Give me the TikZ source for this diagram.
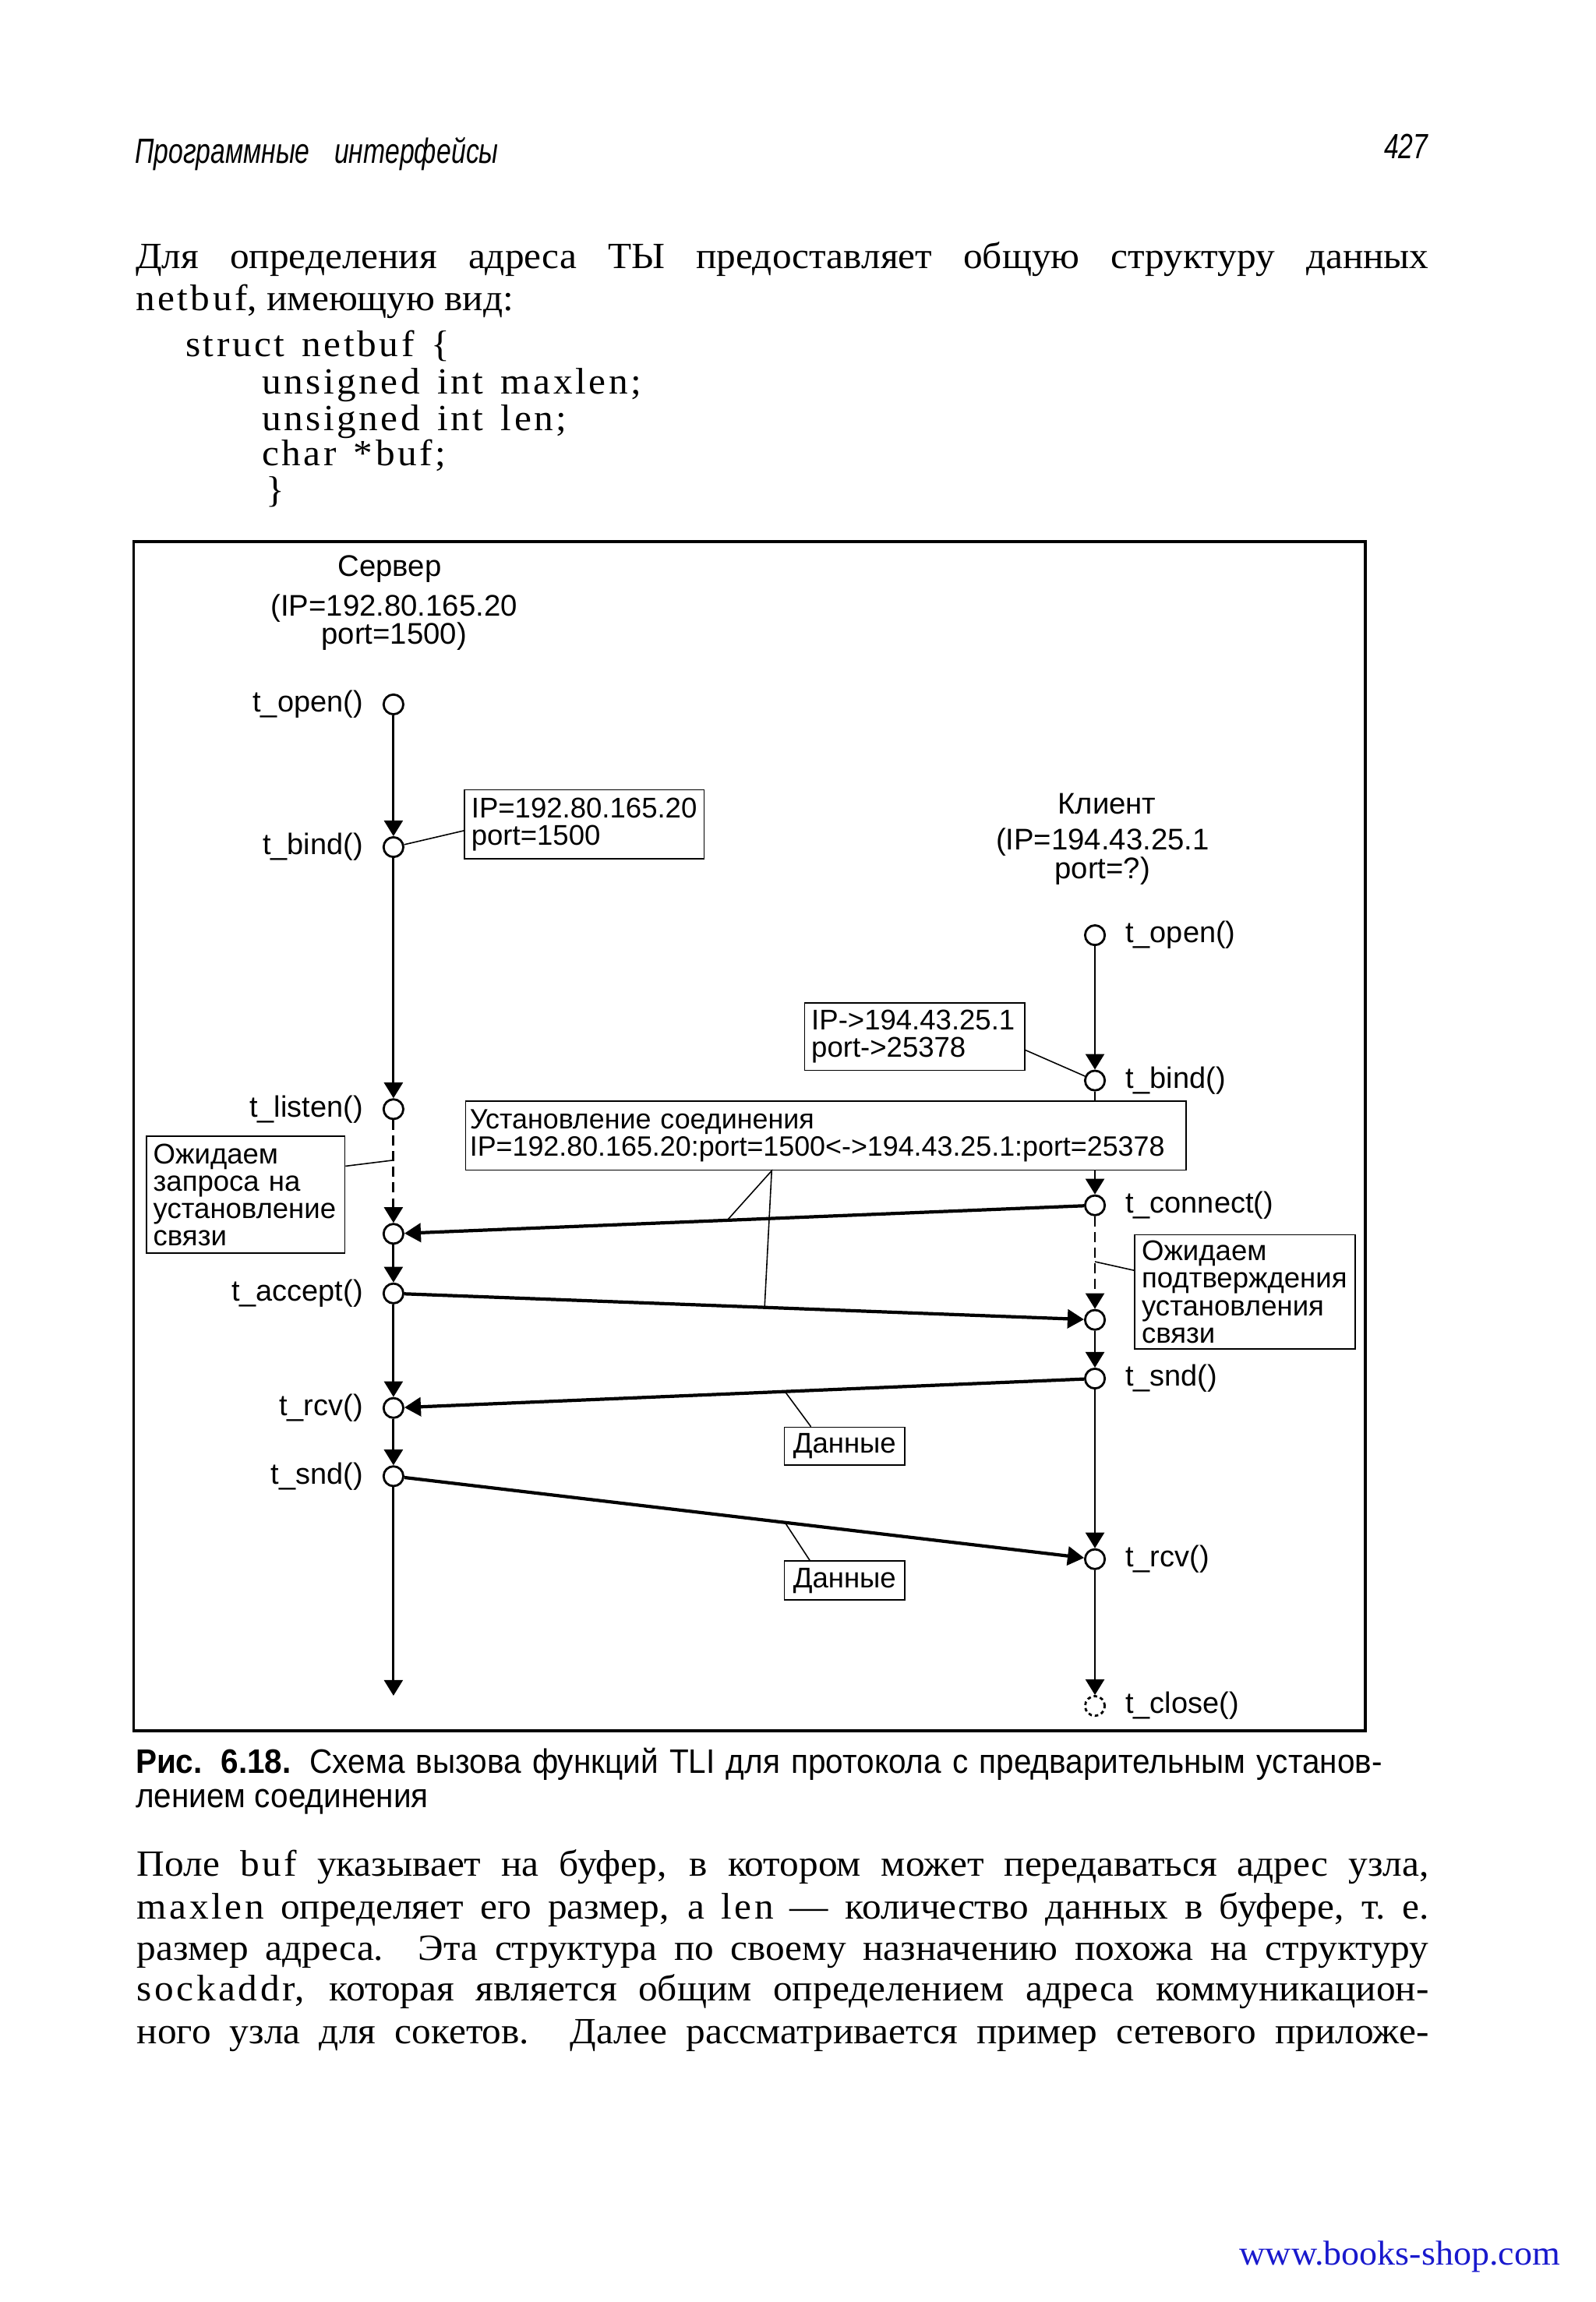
\documentclass[tikz,border=0pt]{standalone}
\usepackage{fontspec}
\setmainfont[FakeStretch=1.04]{Liberation Serif}
\newfontfamily\diafont{Liberation Sans}
\newfontfamily\hdfamily[FakeStretch=0.75]{Liberation Sans}
\newfontfamily\capfamily[FakeStretch=0.93]{Liberation Sans}
\newfontfamily\codefont[FakeStretch=1.04,LetterSpace=7.5,WordSpace=1.4]{Liberation Serif}
\usepackage{xcolor}
\usepackage{tikz}
\usetikzlibrary{arrows.meta}
\definecolor{linkblue}{RGB}{25,25,205}
\newcommand{\netcode}[1]{{\codefont #1}}
\newcommand{\bodyfont}{\fontsize{13.5}{15}\selectfont}
\newcommand{\hdfont}{\hdfamily\itshape\fontsize{12.8}{14}\selectfont}
\newcommand{\capfont}{\capfamily\fontsize{12.4}{14}\selectfont}
\tikzstyle{pt}=[circle,draw,fill=white,% small open circle on a time line
line width=0.8pt,minimum size=7.2pt,inner sep=0pt]
\tikzstyle{life}=[-{Triangle[length=5.7pt,width=6.8pt]},line width=0.8pt]
\tikzstyle{wait}=[life,dash pattern=on 3.7pt off 2pt]
\tikzstyle{msg}=[-{Triangle[length=6pt,width=6.8pt]},line width=1.2pt]
\tikzstyle{note}=[draw,fill=white,line width=0.5pt,align=left,inner xsep=2.5pt,inner ysep=0pt,font=\diafont\fontsize{10.4}{10}\selectfont]
\tikzstyle{pin}=[line width=0.45pt]
\tikzstyle{head}=[align=center,font=\diafont\fontsize{10.9}{10.3}\selectfont]
\tikzstyle{txt}=[inner sep=0pt,anchor=base west,font=\bodyfont]

\begin{document}
\begin{tikzpicture}[x=0.01884cm,y=-0.01884cm,label distance=3.6pt,
  every label/.style={font=\diafont\fontsize{10.8}{12}\selectfont}]
\useasboundingbox (0,0) rectangle (1087,1568);
\node[txt,font=\hdfont] (hdr) at (91.5,111) {Программные\hspace{0.7em}интерфейсы};
\node[txt,anchor=base east,font=\hdfont] (pgno) at (973,108) {427};
\node[txt] (p1) at (92,183) {\makebox[16.6cm][s]{Для определения адреса ТЫ предоставляет общую структуру данных}};
\node[txt] (p2) at (92,211.6) {\netcode{netbuf}, имеющую вид:};
\node[txt] (k1) at (126,242.8) {\netcode{struct netbuf \{}};
\node[txt] (k2) at (178,268.4) {\netcode{unsigned int maxlen;}};
\node[txt] (k3) at (178,293) {\netcode{unsigned int len;}};
\node[txt] (k4) at (178,317.3) {\netcode{char *buf;}};
\node[txt] (k5) at (181,342) {\netcode{\}}};

\draw[line width=1.1pt] (91,369) rectangle (930,1179);
\node[head] (srv) at (265.4,387.5) {Сервер};
\node[head] (srvip) at (268.4,424) {(IP=192.80.165.20\\port=1500)};
\node[head] (cli) at (754,547.6) {Клиент};
\node[head] (cliip) at (751,583.4) {(IP=194.43.25.1\\port=?)};

\node[pt,label=left:{t\_open()}] (s1) at (268,479.8) {};
\node[pt,label=left:{t\_bind()}] (s2) at (268,577) {};
\node[pt,label=left:{t\_listen()}] (s3) at (268,755.5) {};
\node[pt] (s4) at (268,840.4) {};
\node[pt,label=left:{t\_accept()}] (s5) at (268,881) {};
\node[pt,label=left:{t\_rcv()}] (s6) at (268,959) {};
\node[pt,label=left:{t\_snd()}] (s7) at (268,1005.5) {};
\coordinate (s8) at (268,1155);
\node[pt,label=right:{t\_open()}] (c1) at (745.8,637) {};
\node[pt,label=right:{t\_bind()}] (c2) at (745.8,736) {};
\node[pt,label=right:{t\_connect()}] (c3) at (745.8,821) {};
\node[pt] (c4) at (745.8,899) {};
\node[pt,label=right:{t\_snd()}] (c5) at (745.8,939) {};
\node[pt,label=right:{t\_rcv()}] (c6) at (745.8,1062) {};
\node[pt,dash pattern=on 1.3pt off 1.1pt,label=right:{t\_close()}] (c7) at (745.8,1162) {};

\draw[life] (s1) -- (s2);
\draw[life] (s2) -- (s3);
\draw[wait] (s3) -- coordinate[pos=0.39] (w1) (s4);
\draw[life] (s4) -- (s5);
\draw[life] (s5) -- (s6);
\draw[life] (s6) -- (s7);
\draw[life] (s7) -- (s8);
\draw[life] (c1) -- (c2);
\draw[life] (c2) -- (c3);
\draw[wait] (c3) -- coordinate[pos=0.49] (w2) (c4);
\draw[life] (c4) -- (c5);
\draw[life] (c5) -- (c6);
\draw[life] (c6) -- (c7);
\draw[msg] (c3) -- coordinate[pos=0.525] (m1) (s4);
\draw[msg] (s5) -- coordinate[pos=0.53] (m2) (c4);
\draw[msg] (c5) -- coordinate[pos=0.44] (m3) (s6);
\draw[msg] (s7) -- coordinate[pos=0.56] (m4) (c6);

\node[note,text width=2.9cm,minimum height=0.885cm] (b1) at (398,561.5) {IP=192.80.165.20\\port=1500};
\node[note,text width=2.65cm,minimum height=0.867cm] (b2) at (623,706) {IP->194.43.25.1\\port->25378};
\node[note,inner xsep=1.5pt,text width=9.14cm,minimum height=0.885cm,font=\diafont\fontsize{10.2}{10}\selectfont] (b3) at (562.5,773.5) {Установление соединения\\\mbox{IP=192.80.165.20:port=1500<->194.43.25.1:port=25378}};
\node[note,text width=2.37cm,minimum height=1.498cm] (b4) at (167.3,813.8) {Ожидаем\\запроса на\\установление\\связи};
\node[note,text width=2.65cm,minimum height=1.47cm] (b5) at (848,880) {Ожидаем\\подтверждения\\установления\\связи};
\node[note,align=center,text width=1.37cm,minimum height=0.482cm] (b6) at (575.3,985) {Данные};
\node[note,align=center,text width=1.37cm,minimum height=0.5cm] (b7) at (575.3,1076.5) {Данные};
\draw[pin] (s2) -- (b1.183);
\draw[pin] (b2.-7) -- (c2);
\draw[pin] (m1) -- (b3.213) -- (m2);
\draw[pin] (b4.16) -- (w1);
\draw[pin] (b5.169) -- (w2);
\draw[pin] (m3) -- (b6.150);
\draw[pin] (m4) -- (b7.150);

\node[txt,font=\capfont] (cap1) at (92,1208) {\makebox[16.0cm][s]{\textbf{Рис. 6.18.} Схема вызова функций TLI для протокола с предварительным установ-}};
\node[txt,font=\capfont] (cap2) at (92,1231) {лением соединения};
\node[txt] (q1) at (93,1278) {\makebox[16.58cm][s]{Поле \netcode{buf} указывает на буфер, в котором может передаваться адрес узла,}};
\node[txt] (q2) at (93,1307) {\makebox[16.58cm][s]{\netcode{maxlen} определяет его размер, а \netcode{len} — количество данных в буфере, т.~е.}};
\node[txt] (q3) at (93,1335) {\makebox[16.58cm][s]{размер адреса. Эта структура по своему назначению похожа на структуру}};
\node[txt] (q4) at (93,1363) {\makebox[16.58cm][s]{\netcode{sockaddr}, которая является общим определением адреса коммуникацион-}};
\node[txt] (q5) at (93,1392) {\makebox[16.58cm][s]{ного узла для сокетов. Далее рассматривается пример сетевого приложе-}};
\node[txt,anchor=base east,text=linkblue,font=\fontsize{12.6}{14}\selectfont] (url) at (1063,1543) {www.books-shop.com};
\end{tikzpicture}
\end{document}
